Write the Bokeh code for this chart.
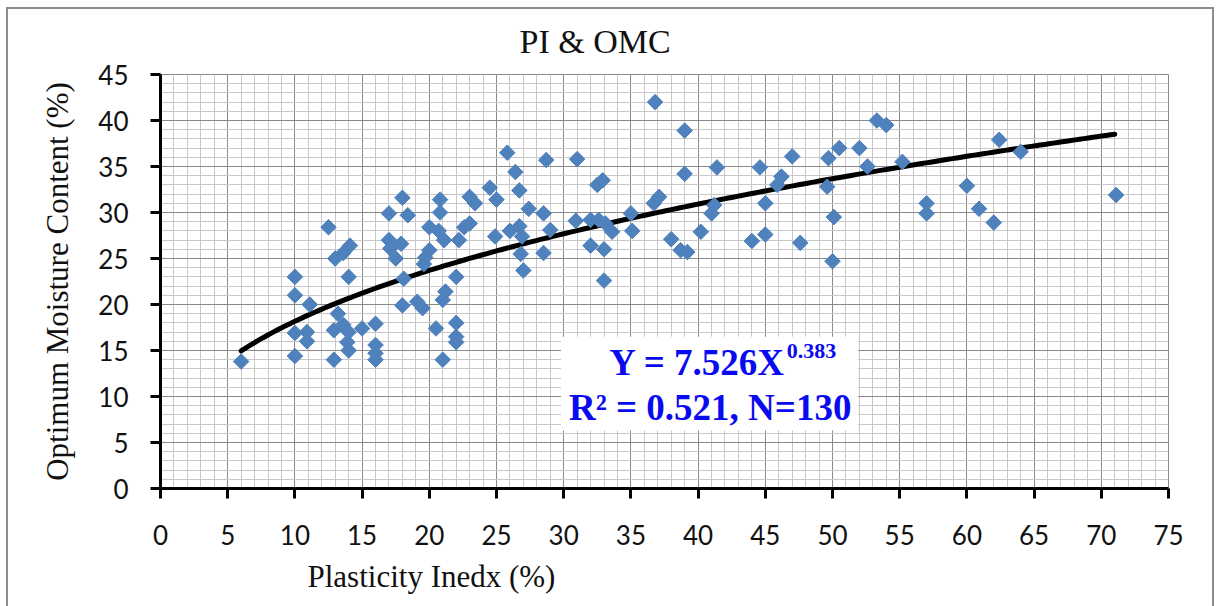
import numpy as np
from bokeh.plotting import figure
from bokeh.models import Range1d, SingleIntervalTicker, Label, Title
from bokeh.embed import file_html
from bokeh.resources import INLINE

# ---- data ----
pi = [6.0, 10.0, 10.0, 10.0, 10.0, 11.1, 10.9, 10.9, 12.5, 13.0,
      13.6, 14.1, 14.0, 13.2, 12.9, 13.6, 14.0, 13.9, 14.0, 12.9,
      15.0, 16.0, 16.0, 16.0, 16.0,
      17.0, 18.4, 18.0, 17.0, 17.1, 17.9, 17.5, 18.1, 18.0, 19.1, 19.5,
      20.0, 20.7, 21.1, 20.0, 19.7, 19.6, 20.8, 20.8, 20.5, 21.0, 21.0, 21.2,
      22.0, 22.0, 22.0, 22.0, 22.6, 23.0, 22.2, 23.0, 23.4, 24.5, 25.0,
      24.9, 26.0, 26.7, 26.9, 25.8, 26.4, 26.7, 26.8, 27.0, 27.4,
      28.5, 28.7, 28.5, 29.0, 31.0, 30.9, 32.0, 32.6, 33.1, 32.5, 32.9, 32.0, 33.0, 33.6, 33.0,
      35.0, 35.1, 36.8, 36.7, 37.1, 38.0, 38.7, 39.2, 39.0, 39.0, 40.2, 41.0, 41.2, 41.4,
      44.6, 44.0, 45.0, 45.0, 45.9, 46.2, 47.0, 47.6, 49.7, 49.6, 50.1, 50.0, 50.5,
      52.0, 52.6, 53.3, 54.0, 55.2, 57.0, 57.0, 60.0, 60.9, 62.0, 62.4, 64.0, 71.1]
omc = [13.8, 23.0, 21.0, 16.9, 14.4, 20.0, 17.0, 16.0, 28.4, 25.0,
       25.6, 26.4, 23.0, 19.0, 17.2, 17.8, 17.0, 15.9, 15.0, 14.0,
       17.4, 17.9, 15.6, 14.7, 14.0,
       29.9, 29.7, 31.6, 27.0, 26.1, 26.6, 25.0, 22.8, 19.9, 20.3, 19.6,
       28.4, 28.0, 27.0, 25.9, 25.1, 24.4, 31.4, 30.0, 17.4, 14.0, 20.5, 21.4,
       23.0, 18.0, 16.5, 15.9, 28.4, 28.8, 27.0, 31.7, 31.0, 32.7, 31.4,
       27.4, 28.0, 28.5, 27.4, 36.5, 34.4, 32.4, 25.5, 23.7, 30.4,
       29.9, 35.7, 25.6, 28.1, 35.8, 29.1, 29.2, 29.2, 28.8, 33.0, 33.5, 26.4, 26.0, 27.9, 22.6,
       29.9, 28.0, 42.0, 31.0, 31.7, 27.1, 25.9, 25.7, 38.9, 34.2, 27.9, 29.9, 30.8, 34.9,
       34.9, 26.9, 27.6, 31.0, 33.0, 33.9, 36.1, 26.7, 35.9, 32.8, 29.5, 24.7, 37.0,
       37.0, 35.0, 40.0, 39.5, 35.5, 31.0, 29.9, 32.9, 30.4, 28.9, 37.9, 36.6, 31.9]
assert len(pi) == len(omc)

# power trend line shown in the chart: Y = a * X^b
trend_a = 7.526
trend_b = 0.383
trend_x_min = 6.0
trend_x_max = 71.0

title_text = "PI & OMC"
x_title = "Plasticity Inedx (%)"
y_title = "Optimum Moisture Content (%)"
eq_line1 = "Y = 7.526X"
eq_sup = "0.383"
eq_line2 = "R\u00b2 = 0.521, N=130"

SERIF = "Liberation Serif"
SANS = "Lato"

frame_css = """
:host { position: relative; }
:host::after {
  content: "";
  position: absolute;
  left: 6px; top: 7px; width: 1208px; height: 599px;
  border: 2px solid #8c8c8c; border-bottom: none;
  box-sizing: border-box; pointer-events: none; z-index: 10;
}
"""

p = figure(width=1220, height=606, output_backend="svg", toolbar_location=None,
           x_range=Range1d(0, 75), y_range=Range1d(0, 45),
           min_border_left=160, min_border_right=52, min_border_top=74,
           min_border_bottom=118, background_fill_color="white",
           border_fill_color="white", stylesheets=[frame_css])

# chart title (placed in the top panel, left-aligned with an offset)
p.title.text = title_text
p.title.align = "left"
p.title.offset = 359
p.title.text_font = SERIF
p.title.text_font_size = "34px"
p.title.text_font_style = "normal"
p.title.text_color = "#111111"
p.title.standoff = 30

xt = SingleIntervalTicker(interval=5, num_minor_ticks=5)
yt = SingleIntervalTicker(interval=5, num_minor_ticks=5)
p.xaxis.ticker = xt
p.yaxis.ticker = yt
p.xgrid.ticker = xt
p.ygrid.ticker = yt

for g in (p.xgrid, p.ygrid):
    g.grid_line_color = "#8a8a8a"
    g.grid_line_width = 1
    g.minor_grid_line_color = "#c8c8c8"
    g.minor_grid_line_width = 1

for ax in (p.xaxis, p.yaxis):
    ax.axis_line_color = "black"
    ax.axis_line_width = 3
    ax.major_tick_in = 0
    ax.major_tick_out = 10
    ax.major_tick_line_width = 3
    ax.major_tick_line_color = "black"
    ax.minor_tick_line_color = None
    ax.major_label_text_font = SANS
    ax.major_label_text_font_size = "26px"
    ax.major_label_text_color = "#111111"
    ax.axis_label_text_font = SERIF
    ax.axis_label_text_font_size = "31px"
    ax.axis_label_text_font_style = "normal"
    ax.axis_label_text_color = "#111111"

p.yaxis.axis_label = y_title
p.xaxis.major_label_standoff = 26
p.yaxis.major_label_standoff = 22
p.yaxis.axis_label_standoff = 20

# x-axis title, left of centre as in the reference
p.add_layout(Title(text=x_title, align="left", offset=147, text_font=SERIF,
                   text_font_size="31px", text_font_style="normal",
                   text_color="#111111", standoff=18), "below")

p.outline_line_color = "#8a8a8a"
p.outline_line_width = 1

# white box behind the equation
p.quad(left=[29.8], right=[51.9], bottom=[6.3], top=[16.5],
       fill_color="white", line_color=None)

# trend line
tx = np.linspace(trend_x_min, trend_x_max, 200)
ty = trend_a * tx ** trend_b
p.line(tx, ty, line_color="black", line_width=5, line_cap="round")

# scatter points (rotated squares = diamonds)
p.scatter(pi, omc, marker="square", angle=np.pi / 4, size=11,
          fill_color="#4F81BD", line_color="#4F81BD")

# equation text
p.add_layout(Label(x=46.5, y=13.75, text=eq_line1, text_align="right",
                   text_baseline="middle", text_font=SERIF, text_font_style="bold",
                   text_font_size="37px", text_color="#0a0af0"))
p.add_layout(Label(x=46.6, y=14.9, text=eq_sup, text_align="left",
                   text_baseline="middle", text_font=SERIF, text_font_style="bold",
                   text_font_size="22px", text_color="#0a0af0"))
p.add_layout(Label(x=40.9, y=8.84, text=eq_line2, text_align="center",
                   text_baseline="middle", text_font=SERIF, text_font_style="bold",
                   text_font_size="37px", text_color="#0a0af0"))

open("out.html", "w").write(file_html(p, INLINE))
